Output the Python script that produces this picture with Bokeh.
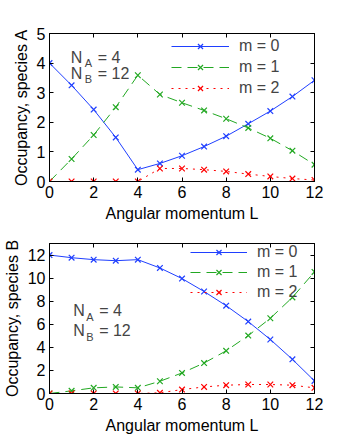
from bokeh.plotting import figure
from bokeh.models import (Range1d, LinearAxis, FixedTicker, Legend,
                          LegendItem, Label)
from bokeh.layouts import column
from bokeh.embed import file_html
from bokeh.resources import INLINE

# ---- data ----
L = [0, 1, 2, 3, 4, 5, 6, 7, 8, 9, 10, 11, 12]
A_m0 = [4.0, 3.25, 2.43, 1.49, 0.40, 0.61, 0.87, 1.18, 1.53, 1.95, 2.38, 2.87, 3.42]
A_m1 = [0.0, 0.76, 1.57, 2.51, 3.59, 2.94, 2.66, 2.40, 2.12, 1.81, 1.46, 1.04, 0.57]
A_m2 = [0.0, 0.0, 0.0, 0.0, 0.0, 0.44, 0.44, 0.40, 0.34, 0.25, 0.17, 0.10, 0.05]
B_m0 = [12.0, 11.77, 11.6, 11.51, 11.6, 10.88, 9.96, 8.84, 7.61, 6.23, 4.68, 2.96, 1.09]
B_m1 = [0.0, 0.23, 0.49, 0.57, 0.49, 1.06, 1.78, 2.64, 3.70, 5.02, 6.52, 8.33, 10.54]
B_m2 = [0.0, 0.0, 0.0, 0.0, 0.0, 0.06, 0.34, 0.57, 0.72, 0.78, 0.78, 0.72, 0.49]
series_labels = ["m = 0", "m = 1", "m = 2"]
x_ticks = [0, 2, 4, 6, 8, 10, 12]
yA_ticks = [0, 1, 2, 3, 4, 5]
yB_ticks = [0, 2, 4, 6, 8, 10, 12]

FONT = "Liberation Sans"
COLORS = ["#1f3fff", "#22a822", "#ff0000"]
DASHES = ["solid", "10 6", "2 5"]


def style_fig(p, yticks, xlabel, ylabel):
    p.xgrid.visible = False
    p.ygrid.visible = False
    p.outline_line_color = "black"
    p.outline_line_alpha = 1
    p.xaxis.axis_label = xlabel
    p.yaxis.axis_label = ylabel
    for ax in p.xaxis + p.yaxis:
        ax.axis_line_color = "black"
        ax.major_tick_in = 4
        ax.major_tick_out = 0
        ax.minor_tick_line_color = None
        ax.major_label_text_font = FONT
        ax.major_label_text_font_size = "16px"
        ax.major_label_text_color = "black"
        ax.axis_label_text_font = FONT
        ax.axis_label_text_font_size = "16px"
        ax.axis_label_text_font_style = "normal"
        ax.axis_label_text_color = "black"
        ax.major_label_standoff = 4
        ax.axis_label_standoff = 4
    p.xaxis.ticker = FixedTicker(ticks=x_ticks)
    p.yaxis.ticker = FixedTicker(ticks=yticks)
    # box ticks on top and right (unlabelled: drawn as minor ticks only)
    top = LinearAxis(ticker=FixedTicker(ticks=[], minor_ticks=x_ticks),
                     minor_tick_in=4, minor_tick_out=0, major_tick_line_color=None,
                     minor_tick_line_color="black", axis_line_color="black",
                     major_label_standoff=0)
    right = LinearAxis(ticker=FixedTicker(ticks=[], minor_ticks=yticks),
                       minor_tick_in=4, minor_tick_out=0, major_tick_line_color=None,
                       minor_tick_line_color="black", axis_line_color="black",
                       major_label_standoff=0)
    p.add_layout(top, "above")
    p.add_layout(right, "right")


def draw(p, ys, loc, glyph_w, glyph_h, spacing):
    items = []
    for y, c, d, lab in zip(ys, COLORS, DASHES, series_labels):
        ln = p.line(L, y, line_color=c, line_width=1, line_dash=d)
        sc = p.scatter(L, y, marker="x", size=8, line_color=c, line_width=1.2)
        items.append(LegendItem(label=lab, renderers=[ln, sc]))
    leg = Legend(items=items, location=loc, glyph_width=glyph_w, glyph_height=glyph_h,
                 label_height=glyph_h, spacing=spacing, padding=0, margin=0,
                 label_standoff=10, background_fill_alpha=0, border_line_alpha=0,
                 label_text_font=FONT, label_text_font_size="16px",
                 label_text_baseline="middle")
    p.add_layout(leg)


def annot(p, x, y, sub, rest, dx_sub, dx_rest):
    p.add_layout(Label(x=x, y=y, text="N", text_font=FONT, text_font_size="16px",
                       text_baseline="alphabetic"))
    p.add_layout(Label(x=x, y=y, x_offset=dx_sub, y_offset=-6, text=sub, text_font=FONT,
                       text_font_size="11px", text_baseline="alphabetic"))
    p.add_layout(Label(x=x, y=y, x_offset=dx_rest, text=rest, text_font=FONT,
                       text_font_size="16px", text_baseline="alphabetic"))


# ---- top figure ----
p1 = figure(width=338, height=228, x_range=Range1d(0, 12), y_range=Range1d(0, 5),
            output_backend="svg", toolbar_location=None,
            min_border_left=38, min_border_right=24, min_border_top=33,
            min_border_bottom=47)
style_fig(p1, yA_ticks, "Angular momentum L", "Occupancy, species A")
draw(p1, [A_m0, A_m1, A_m2], (122, 84), 58, 18, 3)
annot(p1, 0.96, 4.19, "A", "= 4", 14, 27)
annot(p1, 0.96, 3.65, "B", "= 12", 14, 27)

# ---- bottom figure ----
p2 = figure(width=338, height=210, x_range=Range1d(0, 12), y_range=Range1d(0, 13),
            output_backend="svg", toolbar_location=None,
            min_border_left=45, min_border_right=24, min_border_top=15,
            min_border_bottom=45)
style_fig(p2, yB_ticks, "Angular momentum L", "Occupancy, species B")
draw(p2, [B_m0, B_m1, B_m2], (141, 92), 57, 18, 2)
annot(p2, 1.07, 7.19, "A", "= 4", 13, 26)
annot(p2, 1.07, 5.46, "B", "= 12", 13, 26)

layout = column(p1, p2)
open("out.html", "w").write(file_html(layout, INLINE))
